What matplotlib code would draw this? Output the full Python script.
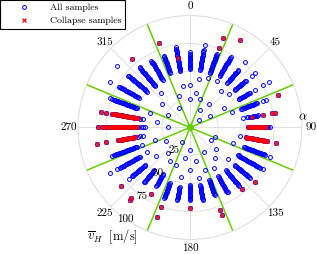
import numpy as np
import matplotlib.pyplot as plt

# sample speeds (m/s), one list per wind direction alpha (deg)
vh_000 = [25, 38, 52, 53, 54, 55, 56, 57, 58, 59, 60, 61, 62, 63, 64, 65, 66, 67]
vh_010 = [31, 44, 52, 53, 54, 55, 56, 57, 58, 59, 60, 61, 62, 63, 64, 65, 66, 67, 68, 69, 70, 75]
vh_020 = [27, 47, 52, 53, 54, 55, 56, 57, 58, 59, 60, 61, 62, 63, 64, 65, 66, 67, 68, 69, 70,
          76, 85]
vh_030 = [18, 48, 53, 54, 55, 56, 57, 58, 59, 60, 61, 62, 63, 64, 65, 66, 67, 68, 69, 70, 71,
          72, 73, 90]
vh_040 = [27, 43, 52, 53, 54, 55, 56, 57, 58, 59, 60, 61, 62, 63, 64, 65, 66, 67, 76]
vh_050 = [11, 46, 52, 53, 54, 55, 56, 57, 58, 59, 60, 61, 62, 63, 64, 65, 72, 76]
vh_060 = [21, 35, 50, 51, 52, 53, 54, 55, 56, 57, 58, 59, 60, 61, 62, 67, 75, 81]
vh_070 = [40, 48, 49, 50, 51, 52, 53, 54, 55, 56, 57, 58, 59, 60, 61, 62, 63, 64, 69, 72, 84]
vh_080 = [48, 52, 53, 54, 55, 56, 57, 58, 59, 60, 61, 62, 66, 74, 77]
vh_090 = [52, 53, 54, 55, 56, 57, 58, 59, 60, 61, 62, 63, 64, 65, 66, 67, 68, 69, 70, 71]
vh_100 = [45, 51, 52, 53, 54, 55, 56, 57, 58, 59, 60, 61, 62, 63, 64, 65, 66, 67, 68, 69, 70, 78]
vh_110 = [24, 41, 51, 52, 53, 54, 55, 56, 57, 58, 59, 60, 61, 62, 63, 64, 65, 66, 67, 68, 69,
          70, 71, 76]
vh_120 = [22, 49, 50, 51, 52, 53, 54, 55, 56, 57, 58, 59, 60, 61, 62, 63, 64, 65, 66, 67, 68,
          69, 70, 71, 72, 75]
vh_130 = [30, 44, 52, 53, 54, 55, 56, 57, 58, 59, 60, 61, 62, 63, 64, 65, 66, 67, 68, 69, 70, 76]
vh_140 = [35, 50, 51, 52, 53, 54, 55, 56, 57, 58, 59, 60, 61, 62, 63, 64, 65, 66, 67, 68, 72]
vh_150 = [25, 42, 50, 51, 52, 53, 54, 55, 56, 57, 58, 59, 60, 61, 62, 63, 64, 65, 66, 67]
vh_160 = [40, 50, 51, 52, 53, 54, 55, 56, 57, 58, 59, 60, 61, 62, 63, 64, 78, 83]
vh_170 = [30, 46, 52, 53, 54, 55, 56, 57, 58, 59, 60, 61, 62, 63, 64, 65, 66]
vh_180 = [20, 38, 51, 52, 53, 54, 55, 56, 57, 58, 59, 60, 61, 62, 63, 64, 65, 72]
vh_190 = [28, 45, 54, 55, 56, 57, 58, 59, 60, 61, 62, 63, 64, 65, 66]
vh_200 = [36, 53, 54, 55, 56, 57, 58, 59, 60, 61, 62, 63, 64, 65, 66, 67, 76, 85]
vh_210 = [15, 35, 48, 49, 50, 51, 52, 53, 54, 55, 56, 57, 58, 59, 60, 69]
vh_220 = [30, 50, 51, 52, 53, 54, 55, 56, 57, 58, 59, 60, 61, 62, 63, 64, 82, 84]
vh_230 = [40, 52, 53, 54, 55, 56, 57, 58, 59, 60, 61, 62, 63, 64, 65, 66, 67, 68, 71, 81]
vh_240 = [25, 44, 52, 53, 54, 55, 56, 57, 58, 59, 60, 61, 62, 63, 64, 65, 66, 67, 68, 69, 70,
          71, 72, 75, 82]
vh_250 = [33, 46, 50, 51, 52, 53, 54, 55, 56, 57, 58, 59, 60, 61, 62, 63, 64, 65, 66, 67, 68,
          69, 70, 71, 72, 74]
vh_260 = [43, 45, 47, 50, 51, 52, 53, 54, 55, 56, 57, 58, 59, 60, 61, 62, 63, 64, 65, 76, 84]
vh_270 = [20, 40, 42, 44, 46, 47, 48, 49, 50, 51, 52, 53, 54, 55, 56, 57, 58, 59, 60, 61,
          62, 63, 64, 65, 66, 67, 68, 69, 70, 71, 73, 75, 77, 79, 82]
vh_280 = [30, 43, 45, 47, 48, 49, 50, 51, 52, 53, 54, 55, 56, 57, 58, 59, 60, 61, 62, 63,
          64, 65, 66, 67, 68, 69, 70, 71, 76, 81]
vh_290 = [38, 50, 51, 52, 53, 54, 55, 56, 57, 58, 59, 60, 61, 62, 63, 64, 65, 66, 67, 68, 69,
          70, 71, 72, 74, 76]
vh_300 = [23, 53, 54, 55, 56, 57, 58, 59, 60, 61, 62, 63, 64, 65, 66, 67, 68, 69, 70, 71, 72,
          73, 82]
vh_310 = [33, 50, 51, 52, 53, 54, 55, 56, 57, 58, 59, 60, 61, 62, 63, 64, 65, 66, 67, 68, 69,
          70, 71, 72, 85]
vh_320 = [40, 48, 49, 50, 51, 52, 53, 54, 55, 56, 57, 58, 59, 60, 61, 62, 63, 64, 65, 66, 67,
          68, 69, 70, 80]
vh_330 = [20, 49, 50, 51, 52, 53, 54, 55, 56, 57, 58, 59, 60, 61, 62, 63, 64, 65, 66, 67, 68, 69]
vh_340 = [30, 52, 53, 54, 55, 56, 57, 58, 59, 60, 61, 62, 63, 64, 65, 66, 67, 68, 80]
vh_350 = [38, 51, 52, 53, 54, 55, 56, 57, 58, 59, 60, 61, 62, 63, 64, 65, 66, 67, 68, 69, 70,
          71, 73]

alpha_all = list(range(0, 360, 10))
vh_all = [vh_000, vh_010, vh_020, vh_030, vh_040, vh_050, vh_060, vh_070, vh_080,
          vh_090, vh_100, vh_110, vh_120, vh_130, vh_140, vh_150, vh_160, vh_170,
          vh_180, vh_190, vh_200, vh_210, vh_220, vh_230, vh_240, vh_250, vh_260,
          vh_270, vh_280, vh_290, vh_300, vh_310, vh_320, vh_330, vh_340, vh_350]

# collapse samples: dense runs at the sides plus isolated points
col_090 = [52, 53, 54, 55, 56, 57, 58, 59, 60, 61, 62, 63, 64, 65, 66, 67, 68]
col_100 = [51, 52, 53, 54, 55, 56, 57, 58, 59, 60, 61, 62, 63, 64, 65, 66, 67, 68, 69, 70, 78]
col_260 = [50, 51, 52, 53, 54, 55, 56, 57, 58, 59, 60, 61, 62, 63, 64, 65, 76, 84]
col_270 = [47, 48, 49, 50, 51, 52, 53, 54, 55, 56, 57, 58, 59, 60, 61, 62, 63, 64, 65, 66,
           67, 68, 69, 70, 71, 73, 75, 77, 79, 82]
col_280 = [47, 48, 49, 50, 51, 52, 53, 54, 55, 56, 57, 58, 59, 60, 61, 62, 63, 64, 65, 66,
           67, 68, 69, 70, 71, 76, 81]
col_alpha = [20, 20, 30, 70, 80, 80, 80, 80, 130, 140, 160, 160, 180, 200, 200, 210,
             220, 220, 230, 320, 340, 350]
col_vh = [76, 85, 90, 84, 56, 66, 74, 77, 76, 72, 78, 83, 72, 76, 85, 69,
          82, 84, 81, 80, 80, 63]

sector_edges = [22.5, 67.5, 112.5, 157.5, 202.5, 247.5, 292.5, 337.5]
theta_ticks = [0, 45, 90, 135, 180, 225, 270, 315]
r_ticks = [25, 50, 75, 100]

plt.rcParams['font.family'] = 'cmr10'
plt.rcParams['mathtext.fontset'] = 'cm'
plt.rcParams['axes.unicode_minus'] = False

fig = plt.figure(figsize=(3.17, 2.54), dpi=100)
ax = fig.add_axes([0.2461, 0.0571, 0.7066, 0.8819], projection='polar')
ax.set_theta_zero_location('N')
ax.set_theta_direction(-1)

# flatten
th_all = np.concatenate([np.full(len(v), a) for a, v in zip(alpha_all, vh_all)])
r_all = np.concatenate([np.array(v, float) for v in vh_all])
th_col = np.concatenate([np.full(len(col_090), 90), np.full(len(col_100), 100),
                         np.full(len(col_260), 260), np.full(len(col_270), 270),
                         np.full(len(col_280), 280), col_alpha])
r_col = np.concatenate([col_090, col_100, col_260, col_270, col_280, col_vh])

for e in sector_edges:
    ax.plot([np.deg2rad(e)] * 2, [0, 100], color='#66cc00', lw=1.1, zorder=2)
ax.plot(0, 0, 'o', color='#66cc00', ms=4, zorder=2)

h1, = ax.plot(np.deg2rad(th_all), r_all, 'o', ms=2.8, mfc='none', mec='blue', mew=0.7,
              ls='none', zorder=3, label='All samples')
h2, = ax.plot(np.deg2rad(th_col), r_col, 'x', ms=3.2, color='red', mew=0.9,
              ls='none', zorder=4, label='Collapse samples')

ax.set_ylim(0, 100)
ax.set_thetagrids(theta_ticks, [str(t) for t in theta_ticks], fontsize=8)
ax.set_rgrids(r_ticks, [''] * len(r_ticks))
for r in r_ticks:
    ax.text(np.deg2rad(215), r, str(r), ha='center', va='center', fontsize=8, zorder=5)
ax.grid(color='#e0e0e0', lw=0.7)
ax.spines['polar'].set_color('#e0e0e0')
ax.spines['polar'].set_linewidth(0.7)
ax.tick_params(axis='x', pad=-4)

leg = fig.legend(handles=[h1, h2], loc='upper left', bbox_to_anchor=(0, 1),
                 fontsize=7, fancybox=False, edgecolor='black', framealpha=1,
                 handlelength=4.2, handletextpad=0.6, borderaxespad=0,
                 borderpad=0.35, labelspacing=0.45)
leg.get_frame().set_linewidth(0.8)

fig.text(112 / 317, 1 - 237 / 254, r'$\overline{v}_H\;$ [m/s]', ha='center', va='center',
         fontsize=9)
fig.text(303 / 317, 1 - 117 / 254, r'$\alpha$', ha='center', va='center', fontsize=9)

fig.savefig('out.png', dpi=100)
